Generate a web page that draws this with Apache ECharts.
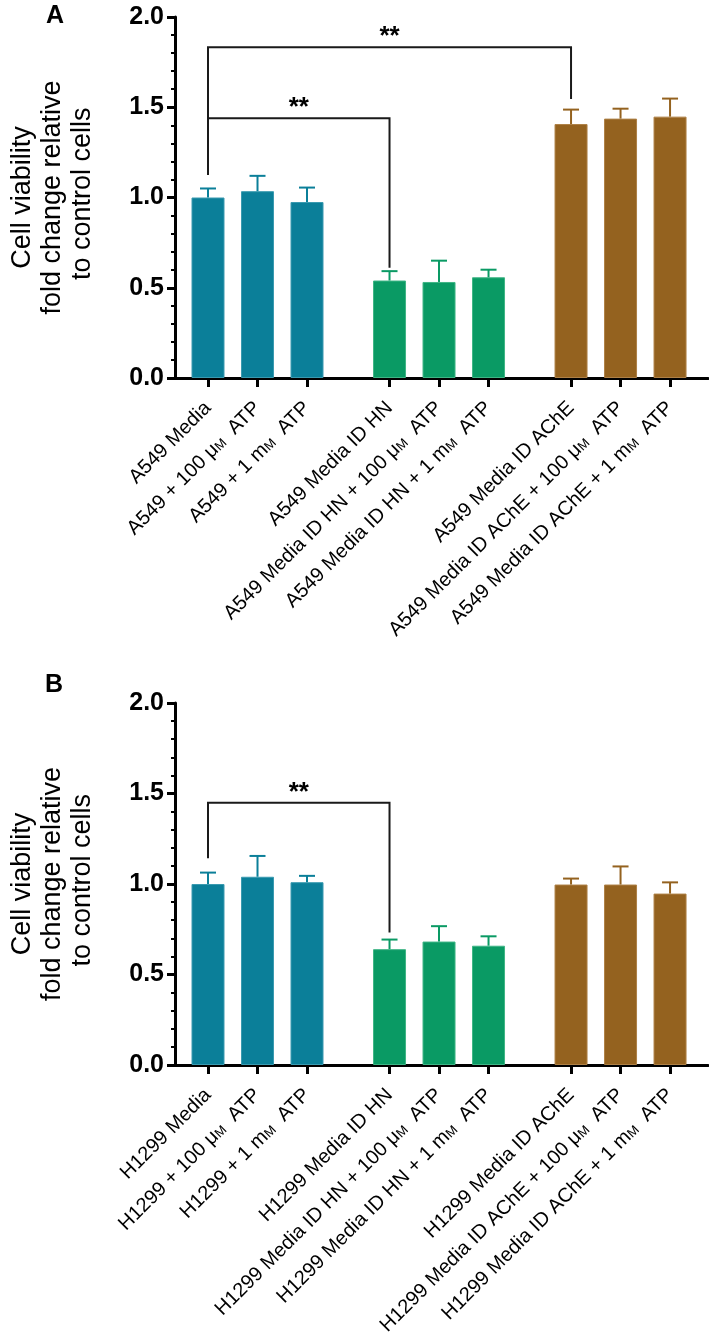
<!DOCTYPE html>
<html><head><meta charset="utf-8">
<script src="https://cdn.jsdelivr.net/npm/echarts@6/dist/echarts.min.js"></script>
<style>html,body{margin:0;padding:0;background:#fff}#c{width:709px;height:1339px}</style>
</head><body><div id="c"></div>
<script>
// ---- data ----
const labelsA = ['A549 Media', 'A549 + 100 μ{s|M}  ATP', 'A549 + 1 m{s|M}  ATP',
  'A549 Media ID HN', 'A549 Media ID HN + 100 μ{s|M}  ATP', 'A549 Media ID HN + 1 m{s|M}  ATP',
  'A549 Media ID AChE', 'A549 Media ID AChE + 100 μ{s|M}  ATP', 'A549 Media ID AChE + 1 m{s|M}  ATP'];
const labelsB = ['H1299 Media', 'H1299 + 100 μ{s|M}  ATP', 'H1299 + 1 m{s|M}  ATP',
  'H1299 Media ID HN', 'H1299 Media ID HN + 100 μ{s|M}  ATP', 'H1299 Media ID HN + 1 m{s|M}  ATP',
  'H1299 Media ID AChE', 'H1299 Media ID AChE + 100 μ{s|M}  ATP', 'H1299 Media ID AChE + 1 m{s|M}  ATP'];
const meansA = [1.00, 1.035, 0.975, 0.54, 0.532, 0.558, 1.407, 1.437, 1.448];
const errsA  = [0.05, 0.085, 0.08, 0.052, 0.118, 0.042, 0.08, 0.055, 0.10];
const meansB = [1.00, 1.04, 1.01, 0.64, 0.682, 0.659, 0.997, 0.997, 0.947];
const errsB  = [0.063, 0.115, 0.035, 0.053, 0.085, 0.052, 0.033, 0.10, 0.062];
// brackets: [fromBar, toBar, level, leftEnd, rightEnd]
const bracketsA = [[0, 6, 1.832, 1.125, 1.546], [0, 3, 1.439, 1.125, 0.611]];
const bracketsB = [[0, 3, 1.449, 1.142, 0.732]];
const yTicks = [0, 0.5, 1.0, 1.5, 2.0];

// ---- layout / style ----
const slots = [2, 5, 8, 13, 16, 19, 24, 27, 30];
const groupColors = ['#0B7F99', '#0A9A64', '#94621F'];
const edgeColors = ['#3A9AB0', '#3FB585', '#AE8046'];
const FONT = 'Liberation Sans, Arial, sans-serif';

function xAxisFor(labels, gi) {
  return {
    type: 'value', gridIndex: gi, min: 0, max: 32.3,
    splitLine: { show: false },
    axisLine: { show: true, lineStyle: { color: '#000', width: 3 } },
    axisTick: { show: true, customValues: slots, length: 9, lineStyle: { color: '#000', width: 3 } },
    axisLabel: {
      customValues: slots, rotate: 45, margin: 27, fontSize: 20, color: '#000', fontFamily: FONT,
      formatter: v => { const i = slots.indexOf(Math.round(v)); return i >= 0 ? labels[i] : ''; },
      rich: { s: { fontSize: 13, color: '#000', fontFamily: FONT, verticalAlign: 'bottom', padding: [0, 0, 1, 0] } }
    }
  };
}
function yAxisFor(gi) {
  return {
    type: 'value', gridIndex: gi, min: 0, max: 2, interval: 0.5,
    name: 'Cell viability\nfold change relative\n to control cells',
    nameLocation: 'middle', nameRotate: 90, nameGap: 77,
    nameTextStyle: { fontSize: 27, lineHeight: 30, color: '#000', fontFamily: FONT },
    splitLine: { show: false },
    axisLine: { show: true, lineStyle: { color: '#000', width: 3 } },
    axisTick: { show: true, length: 8, lineStyle: { color: '#000', width: 3 } },
    minorTick: { show: true, splitNumber: 5, length: 4, lineStyle: { color: '#000', width: 2 } },
    axisLabel: {
      margin: 11, fontSize: 25, fontWeight: 'bold', color: '#000', fontFamily: FONT,
      formatter: v => (yTicks.includes(v) ? v.toFixed(1) : '')
    }
  };
}
function barSeries(means, gi) {
  return {
    type: 'bar', xAxisIndex: gi, yAxisIndex: gi, barWidth: 33,
    data: means.map((m, i) => ({ value: [slots[i], m],
      itemStyle: { color: groupColors[Math.floor(i / 3)], borderColor: edgeColors[Math.floor(i / 3)], borderWidth: 1 } })),
    animation: false, z: 2
  };
}
function errSeries(means, errs, gi) {
  return {
    type: 'custom', xAxisIndex: gi, yAxisIndex: gi, animation: false, z: 3, clip: false,
    data: means.map((m, i) => [slots[i], m, m + errs[i], Math.floor(i / 3)]),
    encode: { x: 0, y: 2 },
    renderItem: (params, api) => {
      const p0 = api.coord([api.value(0), api.value(1)]);
      const p1 = api.coord([api.value(0), api.value(2)]);
      const col = groupColors[api.value(3)];
      const st = { stroke: col, lineWidth: 2 };
      return { type: 'group', children: [
        { type: 'line', shape: { x1: p0[0], y1: p0[1], x2: p1[0], y2: p1[1] }, style: st },
        { type: 'line', shape: { x1: p1[0] - 8, y1: p1[1], x2: p1[0] + 8, y2: p1[1] }, style: st }
      ]};
    }
  };
}
function bracketSeries(br, gi) {
  return {
    type: 'custom', xAxisIndex: gi, yAxisIndex: gi, animation: false, z: 4, clip: false,
    data: br.map(b => [slots[b[0]], slots[b[1]], b[2], b[3], b[4]]),
    encode: { x: [0, 1], y: 2 },
    renderItem: (params, api) => {
      const x1 = api.value(0), x2 = api.value(1), lv = api.value(2);
      const a = api.coord([x1, api.value(3)]);
      const b = api.coord([x1, lv]);
      const c = api.coord([x2, lv]);
      const d = api.coord([x2, api.value(4)]);
      return { type: 'group', children: [
        { type: 'polyline', shape: { points: [a, b, c, d] }, style: { stroke: '#1a1a1a', lineWidth: 2, fill: null } },
        { type: 'text', style: { text: '**', x: (b[0] + c[0]) / 2, y: b[1] - 10, align: 'center', verticalAlign: 'middle',
          font: 'bold 26px ' + FONT, fill: '#000' } }
      ]};
    }
  };
}

const chart = echarts.init(document.getElementById('c'), null, { renderer: 'canvas' });
chart.setOption({
  backgroundColor: '#fff',
  animation: false,
  grid: [
    { left: 172, top: 17, width: 536, height: 361 },
    { left: 173, top: 703, width: 535, height: 362 }
  ],
  xAxis: [xAxisFor(labelsA, 0), xAxisFor(labelsB, 1)],
  yAxis: [yAxisFor(0), yAxisFor(1)],
  graphic: [
    { type: 'text', left: 46, top: 4, style: { text: 'A', font: 'bold 25px ' + FONT, fill: '#000' } },
    { type: 'text', left: 45, top: 673, style: { text: 'B', font: 'bold 25px ' + FONT, fill: '#000' } }
  ],
  series: [
    barSeries(meansA, 0), errSeries(meansA, errsA, 0), bracketSeries(bracketsA, 0),
    barSeries(meansB, 1), errSeries(meansB, errsB, 1), bracketSeries(bracketsB, 1)
  ]
});
</script>
</body></html>
